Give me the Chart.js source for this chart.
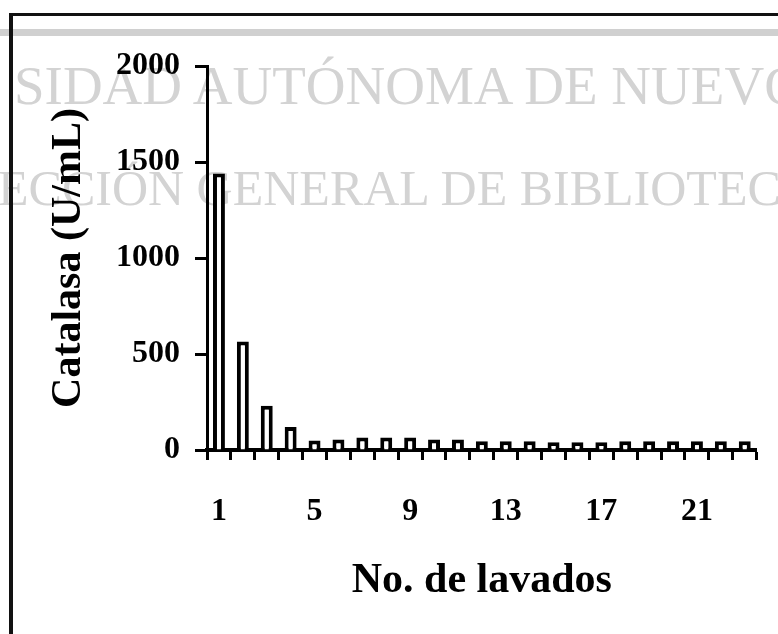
<!DOCTYPE html>
<html>
<head>
<meta charset="utf-8">
<script src="https://cdn.jsdelivr.net/npm/chart.js@4.4.1/dist/chart.umd.min.js"></script>
<style>
  body { margin: 0; background: #fff; }
  #wrap { position: relative; width: 778px; height: 634px; overflow: hidden; background: #fff; }
  .wm { position: absolute; font-family: "Liberation Serif", serif; line-height: 1; color: #d3d3d3; white-space: nowrap; z-index: 0; }
  .line { position: absolute; z-index: 2; }
  canvas { position: absolute; left: 0; top: 0; z-index: 1; }
</style>
</head>
<body>
<div id="wrap">
  <div class="wm" style="left:14px; top:58px; font-size:55px;">SIDAD AUTÓNOMA DE NUEVO</div>
  <div class="wm" style="left:-2px; top:163px; font-size:50px;">ECCIÓN GENERAL DE BIBLIOTECAS</div>
  <div class="line" style="left:10px; top:13px; width:768px; height:3px; background:#111;"></div>
  <div class="line" style="left:0; top:29px; width:778px; height:7px; background:#d0d0d0;"></div>
  <div class="line" style="left:9px; top:13px; width:4px; height:621px; background:#111;"></div>
  <canvas id="chart" width="778" height="634"></canvas>
</div>
<script>
// numero de lavado
var lavados = ['1','2','3','4','5','6','7','8','9','10','11','12','13','14','15','16','17','18','19','20','21','22','23'];
// actividad de catalasa (U/mL) en cada lavado
var catalasa = [1440, 565, 230, 120, 50, 55, 65, 65, 65, 55, 55, 45, 45, 45, 40, 40, 40, 45, 45, 45, 45, 45, 45];
// etiquetas que se muestran en el eje x
var xLabels = ['1','5','9','13','17','21'];
var yTicks = [0, 500, 1000, 1500, 2000];

var serif = '"Liberation Serif", "Times New Roman", serif';

new Chart(document.getElementById('chart'), {
  type: 'bar',
  data: {
    labels: lavados,
    datasets: [{
      label: 'Catalasa',
      data: catalasa,
      backgroundColor: '#fff',
      borderColor: '#000',
      borderWidth: 4,
      categoryPercentage: 1,
      barPercentage: 0.5
    }]
  },
  options: {
    responsive: false,
    animation: false,
    layout: { padding: { left: 44, right: 12, top: 66, bottom: 28 } },
    plugins: { legend: { display: false }, tooltip: { enabled: false } },
    scales: {
      x: {
        grid: { drawOnChartArea: false, drawTicks: true, tickLength: 10, tickWidth: 3, tickColor: '#000', offset: true },
        border: { display: true, color: '#000', width: 4 },
        ticks: {
          autoSkip: false, maxRotation: 0, color: '#000', padding: 33,
          font: { family: serif, size: 32, weight: 'bold' },
          callback: function (value) {
            var l = this.getLabelForValue(value);
            return xLabels.indexOf(l) >= 0 ? l : '';
          }
        },
        title: { display: true, text: 'No. de lavados', color: '#000', padding: 0,
                 font: { family: serif, size: 42, weight: 'bold' } },
        afterFit: function (s) { s.height = 156; }
      },
      y: {
        min: 0, max: 2000,
        afterBuildTicks: function (s) { s.ticks = yTicks.map(function (v) { return { value: v }; }); },
        grid: { drawOnChartArea: false, drawTicks: true, tickLength: 12, tickWidth: 3, tickColor: '#000' },
        border: { display: true, color: '#000', width: 3 },
        ticks: { color: '#000', padding: 15, font: { family: serif, size: 32, weight: 'bold' },
                 callback: function (value) { return String(value); } },
        title: { display: true, text: 'Catalasa (U/mL)', color: '#000', padding: 0,
                 font: { family: serif, size: 42, weight: 'bold' } },
        afterFit: function (s) { s.width = 163; }
      }
    }
  }
});
</script>
</body>
</html>
